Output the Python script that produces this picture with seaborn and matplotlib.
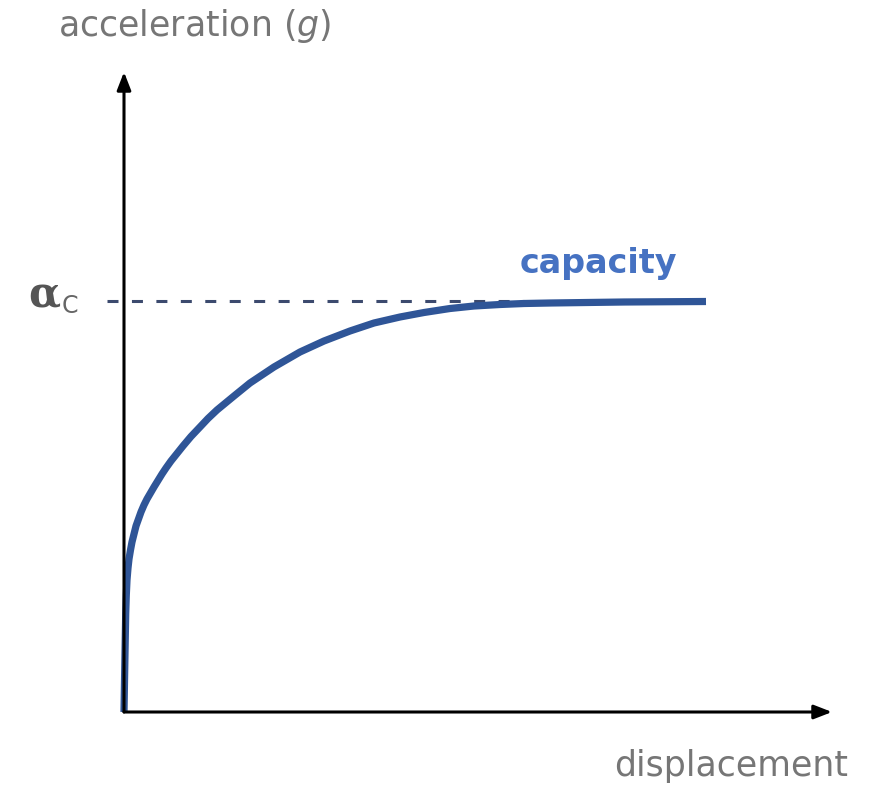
import matplotlib
matplotlib.use("Agg")
import matplotlib.pyplot as plt
import seaborn as sns
import pandas as pd

# Capacity curve (schematic units): displacement vs. spectral acceleration
displacement = [0, 0.5, 1, 1.7, 2.3, 3, 4, 5, 6.5, 8, 10, 12, 14.5, 17, 20,
                23, 26.5, 30, 34, 38, 42, 47, 53, 59, 67, 76, 84, 93, 110,
                126, 150, 176, 200, 226, 250, 276, 300, 326, 350, 376, 400,
                426, 500, 582]
acceleration = [0, 30, 59, 98, 117, 132, 144, 153, 162, 170, 178, 186, 193,
                200, 207, 213, 219, 225, 231.5, 238, 244, 251, 258.5, 266,
                275.5, 285, 293.5, 302, 316, 329, 345, 360, 371, 381, 389,
                395, 399.5, 403.5, 406, 407.5, 408.5, 409, 410, 410.5]
alpha_c = 411
dash_span = [-17, 400]

curve_label = "capacity"
x_label = "displacement"
y_label = "acceleration $\\mathit{(g)}$"

sns.set_theme(style="white")
plt.rcParams["font.family"] = ["DejaVu Sans"]
plt.rcParams["mathtext.fontset"] = "dejavusans"

W, H = 869, 785
fig = plt.figure(figsize=(W / 100, H / 100), dpi=100)
fig.patch.set_facecolor("white")

ox, oy = 124, 712          # origin (pixels)
x_tip, y_tip = 832, 72     # arrow tips (pixels)
ax = fig.add_axes([ox / W, 1 - oy / H, (x_tip - ox) / W, (oy - y_tip) / H])
ax.set_xlim(0, x_tip - ox)
ax.set_ylim(0, oy - y_tip)
ax.set_axis_off()
ax.patch.set_alpha(0)

df = pd.DataFrame({"displacement": displacement, "acceleration": acceleration})

# dashed capacity level
ax.plot(dash_span, [alpha_c, alpha_c], color="#3c4a6e", lw=2.2,
        linestyle=(0, (3.6, 4.4)), clip_on=False, zorder=2)

# capacity curve
sns.lineplot(data=df, x="displacement", y="acceleration", ax=ax, sort=False,
             color="#2f5597", lw=5.2, solid_joinstyle="round",
             solid_capstyle="butt", zorder=3, clip_on=False)

# axes with arrow heads
arrow = dict(arrowstyle="-|>,head_length=0.9,head_width=0.35", color="black",
             lw=2.2, shrinkA=0, shrinkB=0)
ax.annotate("", xy=(1, 0), xytext=(0, 0), xycoords="axes fraction",
            textcoords="axes fraction", arrowprops=arrow, zorder=4)
ax.annotate("", xy=(0, 1), xytext=(0, 0), xycoords="axes fraction",
            textcoords="axes fraction", arrowprops=arrow, zorder=4)


def px(x, y):
    return x / W, 1 - y / H


label_color = "#767676"
fig.text(*px(58, 26), y_label, fontsize=25, color=label_color,
         ha="left", va="center")
fig.text(*px(848, 766), x_label, fontsize=25, color=label_color,
         ha="right", va="center")

fig.text(*px(598, 264), curve_label, fontsize=24, color="#4672c2",
         ha="center", va="center", fontweight="bold")

fig.text(*px(44, 295), "α", fontsize=30, color="#555555", ha="center",
         va="center", family=["DejaVu Serif"], fontweight="bold")
fig.text(*px(70, 306), "C", fontsize=17, color="#666666", ha="center",
         va="center")

fig.savefig("out.png", dpi=100, facecolor="white")
